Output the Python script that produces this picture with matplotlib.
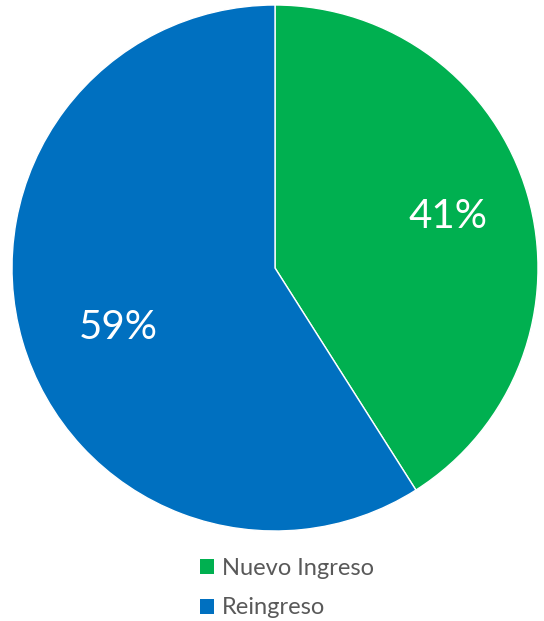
import matplotlib
matplotlib.use("Agg")
import matplotlib.pyplot as plt
import numpy as np
from matplotlib.patches import Patch

categories = ["Nuevo Ingreso", "Reingreso"]
values = [41, 59]
colors = ["#00B050", "#0070C0"]

plt.rcParams['font.family'] = ['Lato', 'DejaVu Sans']

fig = plt.figure(figsize=(5.44, 6.21), dpi=100)
ax = fig.add_axes([12/544, 1 - 531/621, 526/544, 526/621])
wedges, texts, autotexts = ax.pie(values, colors=colors, startangle=90, counterclock=False,
                                  autopct=lambda p: f"{p:.0f}%", pctdistance=0.68,
                                  textprops=dict(color="white", fontsize=29),
                                  wedgeprops=dict(linewidth=1.0, edgecolor="white"))
# fine position adjustments
autotexts[1].set_position((-0.597, -0.228))
autotexts[0].set_position((0.658, 0.194))
ax.set_xlim(-1, 1)
ax.set_ylim(-1, 1)
ax.set_aspect("equal")

handles = [Patch(facecolor=c, edgecolor="none") for c in colors]
leg = fig.legend(handles, categories, loc="upper left", bbox_to_anchor=(200/544, 1 - 558/621),
                 frameon=False, fontsize=17, handlelength=0.6, handleheight=0.6,
                 handletextpad=0.34, labelspacing=0.78, labelcolor="#595959", borderpad=0,
                 borderaxespad=0)
fig.savefig("out.png", dpi=100)
